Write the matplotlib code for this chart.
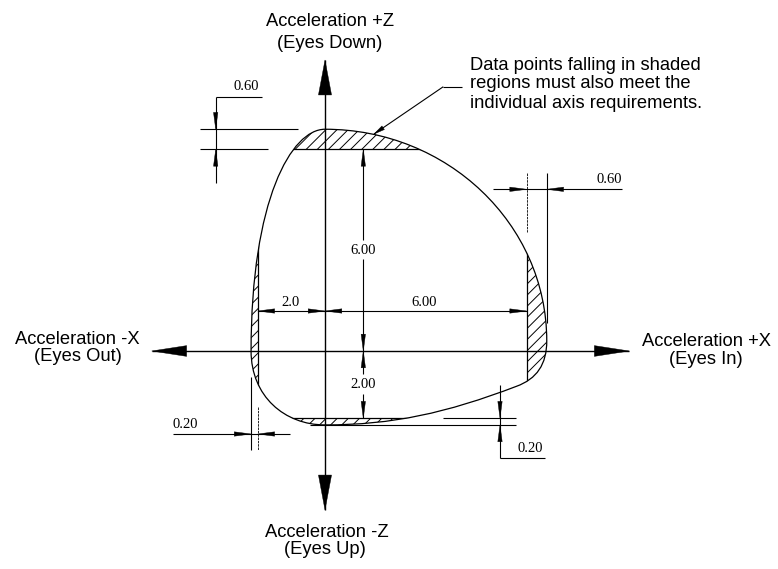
import numpy as np
import matplotlib
matplotlib.use("Agg")
import matplotlib.pyplot as plt
from matplotlib.path import Path
from matplotlib.patches import PathPatch, Rectangle, Polygon

# ---------------- data (g units) ----------------
plus_x, minus_x = 6.00, 2.0          # nominal +X / -X limits
plus_z, minus_z = 6.00, 2.00         # nominal +Z / -Z limits
tol_z_top, tol_x_right = 0.60, 0.60  # tolerance bands
tol_x_left, tol_z_bottom = 0.20, 0.20
dim_labels = {"top": "0.60", "right": "0.60", "left": "0.20", "bottom": "0.20",
              "pz": "6.00", "mz": "2.00", "px": "6.00", "mx": "2.0"}
axis_labels = {"+Z": ["Acceleration +Z", "(Eyes Down)"],
               "-Z": ["Acceleration -Z", "(Eyes Up)"],
               "-X": ["Acceleration -X", "(Eyes Out)"],
               "+X": ["Acceleration +X", "(Eyes In)"]}
note_lines = ["Data points falling in shaded",
              "regions must also meet the",
              "individual axis requirements."]

# envelope outline: cubic Bezier nodes (x, z)
env_x = [0.0, 3.64, 6.6, 6.6, 6.6, 6.3, 5.7, 3.6, 2.0, 0.0, -1.2, -2.2, -2.2, -2.2, -1.0, 0.0]
env_z = [6.6, 6.6, 3.78, 0.3, -0.4, -0.83, -1.05, -1.85, -2.2, -2.2, -2.2, -1.35, 0.0, 4.5, 6.6, 6.6]

# ---------------- layout helpers ----------------
W, H, DPI = 778, 569, 100
S, OX, OY = 33.6, 325.0, 351.0
def X(px): return (px - OX) / S
def Z(py): return (OY - py) / S

fig = plt.figure(figsize=(W / DPI, H / DPI), dpi=DPI)
ax = fig.add_axes([0, 0, 1, 1])
ax.set_xlim(X(0), X(W))
ax.set_ylim(Z(H), Z(0))
ax.axis("off")
plt.rcParams["hatch.linewidth"] = 0.7

LW = 0.9
sans = ["Liberation Sans", "DejaVu Sans"]
serif = ["Liberation Serif", "DejaVu Serif"]

# envelope
verts = list(zip(env_x, env_z)) + [(env_x[0], env_z[0])]
codes = [Path.MOVETO] + [Path.CURVE4] * (len(env_x) - 1) + [Path.CLOSEPOLY]
env_path = Path(verts, codes)
env = PathPatch(env_path, facecolor="none", edgecolor="black", lw=LW, zorder=3)
ax.add_patch(env)

# hatched regions (outside nominal limits, inside envelope)
regions = [((-minus_x - 1, plus_z), plus_x + minus_x + 2, 2),
           ((plus_x, -minus_z - 1), 2, plus_z + minus_z + 2),
           ((-minus_x - 1, -minus_z - 2), plus_x + minus_x + 2, 2),
           ((-minus_x - 2, -minus_z - 1), 2, plus_z + minus_z + 2)]
for xy, w, h in regions:
    r = Rectangle(xy, w, h, facecolor="none", edgecolor="black", lw=0, hatch="///", zorder=2)
    ax.add_patch(r)
    r.set_clip_path(env)

# nominal limit lines inside envelope
for xs, zs in [([-5, 10], [plus_z, plus_z]), ([-5, 10], [-minus_z, -minus_z]),
               ([plus_x, plus_x], [-5, 10]), ([-minus_x, -minus_x], [-5, 10])]:
    ln, = ax.plot(xs, zs, color="black", lw=LW, zorder=3)
    ln.set_clip_path(env)

def seg(x0, z0, x1, z1, lw=0.8, ls="-"):
    ax.plot([x0, x1], [z0, z1], color="black", lw=lw, ls=ls, solid_capstyle="butt", zorder=4)

def head(tip, d, L=0.5, Wd=0.13):
    tip = np.array(tip, float); d = np.array(d, float); d = d / np.hypot(*d)
    base = tip - d * L; p = np.array([-d[1], d[0]])
    ax.add_patch(Polygon([tip, base + p * Wd / 2, base - p * Wd / 2], closed=True,
                         facecolor="black", edgecolor="black", lw=0.3, zorder=5))

# main axes with arrows
z_top, z_bot, x_left, x_right = Z(60), Z(510), X(151.7), X(629.3)
seg(0, z_bot, 0, z_top, lw=1.0)
seg(x_left, 0, x_right, 0, lw=1.0)
head((0, z_top), (0, 1), L=1.04, Wd=0.39)
head((0, z_bot), (0, -1), L=1.04, Wd=0.39)
head((x_left, 0), (-1, 0), L=1.04, Wd=0.32)
head((x_right, 0), (1, 0), L=1.04, Wd=0.32)

# axis labels
fs = 13.2
ax.text(X(330), Z(26), axis_labels["+Z"][0], ha="center", va="baseline", fontsize=fs, family=sans)
ax.text(X(330), Z(48.5), axis_labels["+Z"][1], ha="center", va="baseline", fontsize=fs, family=sans)
ax.text(X(327), Z(537), axis_labels["-Z"][0], ha="center", va="baseline", fontsize=fs, family=sans)
ax.text(X(325), Z(554), axis_labels["-Z"][1], ha="center", va="baseline", fontsize=fs, family=sans)
ax.text(X(77.5), Z(344), axis_labels["-X"][0], ha="center", va="baseline", fontsize=fs, family=sans)
ax.text(X(77.5), Z(361), axis_labels["-X"][1], ha="center", va="baseline", fontsize=fs, family=sans)
ax.text(X(706), Z(346.5), axis_labels["+X"][0], ha="center", va="baseline", fontsize=fs, family=sans)
ax.text(X(705.5), Z(364), axis_labels["+X"][1], ha="center", va="baseline", fontsize=fs, family=sans)

# note with leader
for i, t in enumerate(note_lines):
    ax.text(X(470.5), Z(69.5 + 19 * i), t, ha="left", va="baseline", fontsize=fs, family=sans)
seg(X(443.3), Z(86.7), X(461.7), Z(86.7))
seg(X(443.3), Z(86.7), X(374), Z(134))
head((X(374), Z(134)), (X(374) - X(443.3), Z(134) - Z(86.7)), L=0.33, Wd=0.13)

dfs = 10.5
# top-left 0.60 dimension
zt = plus_z + tol_z_top
xd = X(215.7)
seg(X(200), zt, X(298), zt)
seg(X(200), plus_z, X(268), plus_z)
seg(xd, Z(96.7), xd, Z(183))
seg(xd, Z(96.7), X(262), Z(96.7))
head((xd, zt), (0, -1)); head((xd, plus_z), (0, 1))
ax.text(X(246), Z(90), dim_labels["top"], ha="center", va="baseline", fontsize=dfs, family=serif)

# right 0.60 dimension
xr = plus_x + tol_x_right
zd = Z(189.3)
seg(plus_x, Z(173), plus_x, Z(232), lw=0.6, ls=(0, (3, 1)))
seg(xr, Z(173), xr, Z(323))
seg(X(492.7), zd, X(621.7), zd)
head((plus_x, zd), (1, 0)); head((xr, zd), (-1, 0))
ax.text(X(609), Z(183), dim_labels["right"], ha="center", va="baseline", fontsize=dfs, family=serif)

# vertical 6.00 / 2.00
xv = X(363.3)
seg(xv, plus_z, xv, Z(240)); seg(xv, Z(259), xv, 0)
head((xv, plus_z), (0, 1)); head((xv, 0), (0, -1))
ax.text(xv, Z(253.5), dim_labels["pz"], ha="center", va="baseline", fontsize=dfs, family=serif)
seg(xv, 0, xv, Z(374)); seg(xv, Z(394), xv, -minus_z)
head((xv, 0), (0, 1)); head((xv, -minus_z), (0, -1))
ax.text(xv, Z(388.5), dim_labels["mz"], ha="center", va="baseline", fontsize=dfs, family=serif)

# horizontal 2.0 / 6.00
zh = Z(311)
seg(-minus_x, zh, plus_x, zh)
head((-minus_x, zh), (-1, 0)); head((0, zh), (1, 0))
head((0, zh), (-1, 0)); head((plus_x, zh), (1, 0))
ax.text(X(290), Z(306.5), dim_labels["mx"], ha="center", va="baseline", fontsize=dfs, family=serif)
ax.text(X(424), Z(306.5), dim_labels["px"], ha="center", va="baseline", fontsize=dfs, family=serif)

# left 0.20
xl = -minus_x - tol_x_left
zl = Z(434)
seg(xl, Z(376.7), xl, Z(450))
seg(-minus_x, Z(406.7), -minus_x, Z(450), lw=0.6, ls=(0, (3, 1)))
seg(X(173), zl, X(290), zl)
head((xl, zl), (1, 0)); head((-minus_x, zl), (-1, 0))
ax.text(X(185), Z(428.5), dim_labels["left"], ha="center", va="baseline", fontsize=dfs, family=serif)

# bottom-right 0.20
zb = -minus_z - tol_z_bottom
xb = X(500)
seg(X(443), -minus_z, X(516), -minus_z)
seg(X(310), zb, X(516), zb)
seg(xb, Z(385), xb, Z(458.3))
seg(xb, Z(458.3), X(545), Z(458.3))
head((xb, -minus_z), (0, -1)); head((xb, zb), (0, 1))
ax.text(X(530), Z(451.5), dim_labels["bottom"], ha="center", va="baseline", fontsize=dfs, family=serif)

fig.savefig("out.png", dpi=DPI, facecolor="white")
